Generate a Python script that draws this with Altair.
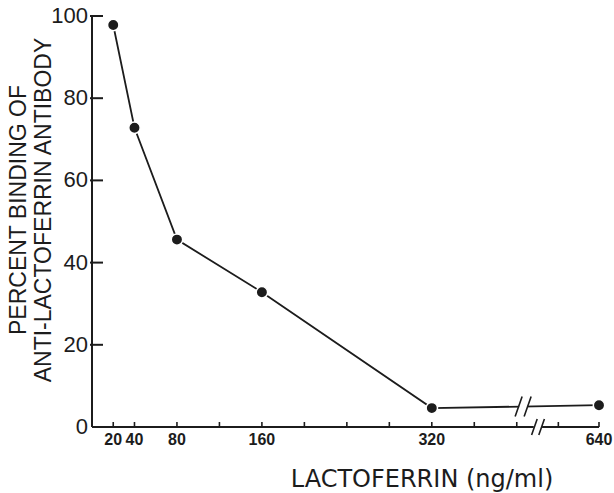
import altair as alt
import pandas as pd

# ---- data ----
concentration = [20, 40, 80, 160, 320, 640]          # ng/ml
binding = [97.8, 72.8, 45.6, 32.8, 4.6, 5.3]          # percent binding

x_label_values = [20, 40, 80, 160, 320, 640]
x_tick_values = [20, 40, 80, 120, 160, 200, 240, 280, 320, 360, 400, 600, 640]
y_label_values = [0, 20, 40, 60, 80, 100]
y_tick_values = [20, 40, 60, 80, 100]

# broken x axis (data units)
x_scale_domain = [0, 420, 580, 640]
axis_segment_start = [0, 584]
axis_segment_end = [416, 640]
axis_break_x = [420]
axis_break_y = [0]
line_break_x = [406]
line_break_y = [5.0]
y_axis_extent = [0, 100]

y_title = ["PERCENT BINDING OF\u00a0\u00a0", "ANTI-LACTOFERRIN ANTIBODY"]
x_title = "LACTOFERRIN (ng/ml)"

# ---- tables ----
df = pd.DataFrame({"c": concentration, "b": binding})
seg = pd.DataFrame({"x": axis_segment_start, "x2": axis_segment_end, "y": [0] * len(axis_segment_start)})
ydom = pd.DataFrame({"x": [0], "y": [y_axis_extent[0]], "y2": [y_axis_extent[1]]})
xt = pd.DataFrame({"v": x_tick_values})
yt = pd.DataFrame({"v": y_tick_values})
xl = pd.DataFrame({"v": x_label_values, "t": [str(v) for v in x_label_values]})
yl = pd.DataFrame({"v": y_label_values, "t": [str(v) for v in y_label_values]})
abrk = pd.DataFrame({"x": axis_break_x, "y": axis_break_y})
lbrk = pd.DataFrame({"x": line_break_x, "y": line_break_y})
one = pd.DataFrame({"k": [0]})

INK = "#1c1c1c"
W, H = 507, 411
SLASH = "M-0.8,1L-0.1,-1M0.1,1L0.8,-1"

xscale = alt.Scale(domain=x_scale_domain, range=[0, 446, 446, W], nice=False, zero=False)
yscale = alt.Scale(domain=[0, 100], nice=False, zero=True)


def X(field):
    return alt.X(field, scale=xscale, axis=None)


def Y(field):
    return alt.Y(field, scale=yscale, axis=None)


line = alt.Chart(df).mark_line(color=INK, strokeWidth=1.8).encode(
    x=X("c:Q"), y=Y("b:Q"),
)
x_axis_line = alt.Chart(seg).mark_rule(color=INK, strokeWidth=2).encode(
    x=X("x:Q"), x2="x2:Q", y=Y("y:Q"),
)
y_axis_line = alt.Chart(ydom).mark_rule(color=INK, strokeWidth=2).encode(
    x=X("x:Q"), y=Y("y:Q"), y2="y2:Q",
)
x_ticks = alt.Chart(xt).mark_rule(color=INK, strokeWidth=1.6).encode(
    x=X("v:Q"), y=alt.value(H), y2=alt.value(H - 5),
)
y_ticks = alt.Chart(yt).mark_rule(color=INK, strokeWidth=2).encode(
    y=Y("v:Q"), x=alt.value(-2), x2=alt.value(11),
)
x_labels = alt.Chart(xl).mark_text(
    font="Liberation Sans", fontSize=16, fontWeight="bold", color=INK,
    align="center", baseline="top",
).encode(x=X("v:Q"), y=alt.value(H + 5), text="t:N")
y_labels = alt.Chart(yl).mark_text(
    font="Liberation Sans", fontSize=22, color=INK, align="right", baseline="middle",
).encode(y=Y("v:Q"), x=alt.value(-4), text="t:N")
x_title_mark = alt.Chart(one).mark_text(
    text=x_title, font="DejaVu Sans", fontSize=24, color=INK, align="center", baseline="top",
).encode(x=alt.value(330), y=alt.value(H + 41))
y_title_mark = alt.Chart(one).mark_text(
    text=y_title, font="Liberation Sans", fontSize=23, color=INK, align="center",
    baseline="top", angle=270, lineHeight=25,
).encode(x=alt.value(-84), y=alt.value(194))
gap = alt.Chart(lbrk).mark_square(color="white", opacity=1, size=64).encode(
    x=X("x:Q"), y=Y("y:Q"),
)
points = alt.Chart(df).mark_circle(color=INK, opacity=1, size=130, stroke="white", strokeWidth=1.5).encode(
    x=X("c:Q"), y=Y("b:Q"),
)
line_slash = alt.Chart(lbrk).mark_point(shape=SLASH, filled=False, color=INK, strokeWidth=1.6, size=400, opacity=1).encode(
    x=X("x:Q"), y=Y("y:Q"),
)
axis_slash = alt.Chart(abrk).mark_point(shape=SLASH, filled=False, color=INK, strokeWidth=1.6, size=256, opacity=1).encode(
    x=X("x:Q"), y=Y("y:Q"),
)

chart = alt.layer(
    line, x_axis_line, y_axis_line, x_ticks, y_ticks, x_labels, y_labels,
    x_title_mark, y_title_mark, gap, points, line_slash, axis_slash
).properties(
    width=W, height=H,
    autosize=alt.AutoSizeParams(type="none"),
    padding={"left": 92, "top": 16, "right": 15, "bottom": 66},
    background="white",
).configure_view(stroke=None)

chart.save("out.html", embed_options={"renderer": "svg", "actions": False})
